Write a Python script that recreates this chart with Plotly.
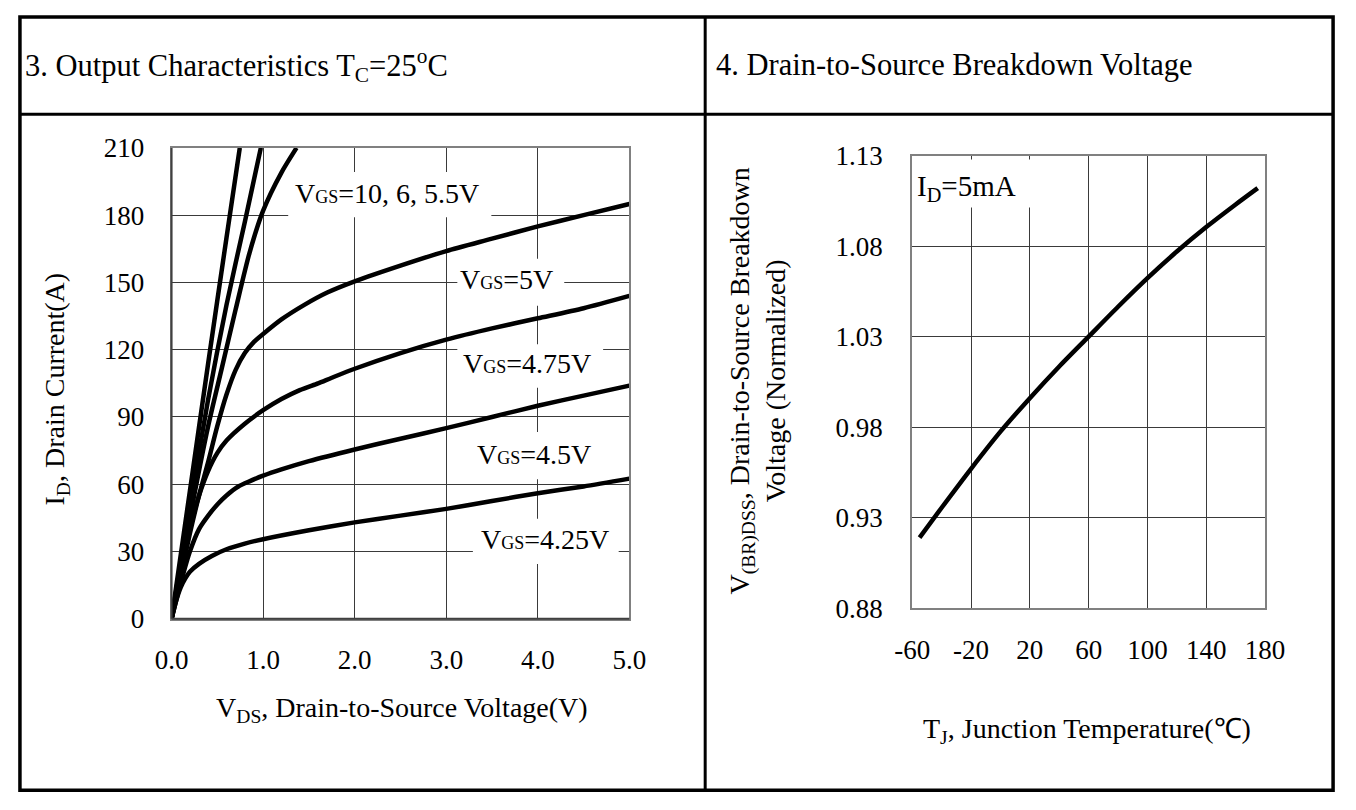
import plotly.graph_objects as go

W, H = 1356, 810
FONT = "Liberation Serif"

# ---- Output characteristics (I_D vs V_DS) ----
vgs_10_v = [0, 0.2, 0.4, 0.6, 0.745]
vgs_10_i = [0, 57, 114, 170, 210]

vgs_6_v = [0, 0.2, 0.4, 0.6, 0.8, 0.975]
vgs_6_i = [0, 50, 98, 140, 177, 210]

vgs_55_v = [0, 0.2, 0.4, 0.55, 0.7, 0.85, 1.0, 1.2, 1.365]
vgs_55_i = [0, 45, 86, 112, 138, 163, 182, 199, 210]

vgs_5_v = [0, 0.1, 0.2, 0.3, 0.4, 0.5, 0.6, 0.7, 0.8, 0.9, 1.0, 1.2, 1.45, 1.7, 2.0, 2.5, 3.0, 3.5, 4.0, 4.5, 5.0]
vgs_5_i = [0, 19, 38, 55, 70, 86, 100, 111, 118.5, 123.5, 127, 133.5, 140, 145.5, 150.5, 157.5, 164, 169.5, 175, 180, 185]

vgs_475_v = [0, 0.1, 0.2, 0.3, 0.4, 0.5, 0.6, 0.8, 1.0, 1.2, 1.4, 1.6, 1.75, 2.0, 2.5, 3.0, 3.5, 4.0, 4.5, 5.0]
vgs_475_i = [0, 21, 40, 55, 66, 74, 79.5, 87, 93, 98, 102, 105, 107.5, 111.5, 118.5, 124.5, 129.5, 134, 138.5, 144]

vgs_45_v = [0, 0.1, 0.2, 0.3, 0.4, 0.5, 0.6, 0.73, 0.85, 1.0, 1.2, 1.5, 2.0, 2.5, 3.0, 3.5, 4.0, 4.5, 5.0]
vgs_45_i = [0, 16, 30, 40, 46, 51, 55, 59, 61.3, 63.8, 66.6, 70.3, 75.5, 80.3, 85, 90, 95, 99.5, 104]

vgs_425_v = [0, 0.05, 0.1, 0.15, 0.2, 0.3, 0.44, 0.6, 0.8, 1.0, 1.5, 2.0, 2.5, 3.0, 3.5, 4.0, 4.5, 5.0]
vgs_425_i = [0, 8, 14, 18, 21, 24.5, 28, 31, 33.5, 35.5, 39.5, 43, 46, 49, 52.5, 56, 59, 62.5]

vds_ticks = [0, 1, 2, 3, 4, 5]
id_ticks = [0, 30, 60, 90, 120, 150, 180, 210]

# ---- Normalized breakdown voltage vs junction temperature ----
tj = [-55, -40, -20, 0, 20, 40, 60, 80, 100, 120, 140, 160, 175]
bv = [0.919, 0.9355, 0.957, 0.9775, 0.996, 1.0135, 1.030, 1.0465, 1.0623, 1.077, 1.0905, 1.103, 1.112]

tj_ticks = [-60, -20, 20, 60, 100, 140, 180]
bv_ticks = [0.88, 0.93, 0.98, 1.03, 1.08, 1.13]


def px(x):
    return x / W


def py(y):
    return 1 - y / H


fig = go.Figure()

curves = [(vgs_10_v, vgs_10_i), (vgs_6_v, vgs_6_i), (vgs_55_v, vgs_55_i),
          (vgs_5_v, vgs_5_i), (vgs_475_v, vgs_475_i), (vgs_45_v, vgs_45_i),
          (vgs_425_v, vgs_425_i)]
for xs, ys in curves:
    fig.add_trace(go.Scatter(x=xs, y=ys, mode="lines", xaxis="x", yaxis="y",
                             line=dict(color="black", width=4.5, shape="spline", smoothing=0.7),
                             showlegend=False, hoverinfo="skip"))

fig.add_trace(go.Scatter(x=tj, y=bv, mode="lines", xaxis="x2", yaxis="y2",
                         line=dict(color="black", width=4.5, shape="spline", smoothing=0.7),
                         showlegend=False, hoverinfo="skip"))

axis_common = dict(showgrid=True, gridcolor="#3a3a3a", gridwidth=1, zeroline=False,
                   showline=True, mirror=True, linecolor="#808080", linewidth=2,
                   ticks="", tickfont=dict(family=FONT, size=27, color="black"))

fig.update_layout(
    width=W, height=H, margin=dict(l=0, r=0, t=0, b=0),
    paper_bgcolor="white", plot_bgcolor="white",
    font=dict(family=FONT, color="black"),
    xaxis=dict(domain=[px(158), px(629)], range=[0, 5], tickvals=vds_ticks,
               ticktext=[f"{v:.1f}" for v in vds_ticks], ticklabelstandoff=16,
               anchor="y", **axis_common),
    yaxis=dict(domain=[py(627), py(138)], range=[0, 210], tickvals=id_ticks,
               ticklabelstandoff=20, anchor="x", **axis_common),
    xaxis2=dict(domain=[px(920), px(1283)], range=[-60, 180], tickvals=tj_ticks,
                ticktext=[str(t) for t in tj_ticks], ticklabelstandoff=16,
                anchor="y2", **axis_common),
    yaxis2=dict(domain=[py(616), py(146)], range=[0.88, 1.13], tickvals=bv_ticks,
                ticktext=[f"{v:.2f}" for v in bv_ticks], ticklabelstandoff=22,
                anchor="x2", **axis_common),
)

# table frame
shapes = [
    dict(type="rect", xref="paper", yref="paper", x0=px(2), x1=px(1353), y0=py(2), y1=py(805),
         line=dict(color="black", width=3.5)),
    dict(type="line", xref="paper", yref="paper", x0=px(707), x1=px(707), y0=py(2), y1=py(805),
         line=dict(color="black", width=3)),
    dict(type="line", xref="paper", yref="paper", x0=px(2), x1=px(1353), y0=py(103), y1=py(103),
         line=dict(color="black", width=3)),
    # darker left / bottom axis lines of the output plot
    dict(type="line", xref="paper", yref="paper", x0=px(158), x1=px(158), y0=py(138), y1=py(627),
         line=dict(color="#404040", width=2)),
    dict(type="line", xref="paper", yref="paper", x0=px(158), x1=px(629), y0=py(627), y1=py(627),
         line=dict(color="#404040", width=2)),
]

# white boxes behind curve labels (they break the grid lines)
label_boxes = [(278, 487, 163, 210), (452, 562, 253, 302), (452, 602, 342, 387),
               (462, 600, 433, 482), (468, 618, 523, 570), (922, 1045, 150, 200)]
for x0, x1, y0, y1 in label_boxes:
    shapes.append(dict(type="rect", xref="paper", yref="paper", x0=px(x0), x1=px(x1),
                       y0=py(y0), y1=py(y1), fillcolor="white", line=dict(width=0), layer="above"))
fig.update_layout(shapes=shapes)

GS = '<span style="font-size:18px">GS</span>'
ann = []


def text(x, y, s, size, angle=0, xanchor="center"):
    ann.append(dict(xref="paper", yref="paper", x=px(x), y=py(y), text=s, showarrow=False,
                    xanchor=xanchor, yanchor="middle", textangle=angle,
                    font=dict(family=FONT, size=size, color="black")))


text(5, 52, "3. Output Characteristics T<sub>C</sub>=25<sup>o</sup>C", 30.5, xanchor="left")
text(716, 52, "4. Drain-to-Source Breakdown Voltage", 30.5, xanchor="left")

text(380, 185, f"V{GS}=10, 6, 5.5V", 28)
text(503, 275, f"V{GS}=5V", 28)
text(524, 362, f"V{GS}=4.75V", 28)
text(531, 456, f"V{GS}=4.5V", 28)
text(542, 545, f"V{GS}=4.25V", 28)
text(976, 180, "I<sub>D</sub>=5mA", 29)

text(395, 721, "V<sub>DS</sub>, Drain-to-Source Voltage(V)", 28)
text(40, 388, "I<sub>D</sub>, Drain Current(A)", 28, angle=-90)
text(1100, 743, "T<sub>J</sub>, Junction Temperature(℃)", 28)
text(761, 380, "V<sub>(BR)DSS</sub>, Drain-to-Source Breakdown<br>Voltage (Normalized)", 28, angle=-90)

fig.update_layout(annotations=ann)

# page without body margin so the figure sits at the window origin
fig.write_html("out.html",
               post_script="document.body.style.margin='0';document.body.style.overflow='hidden';")
